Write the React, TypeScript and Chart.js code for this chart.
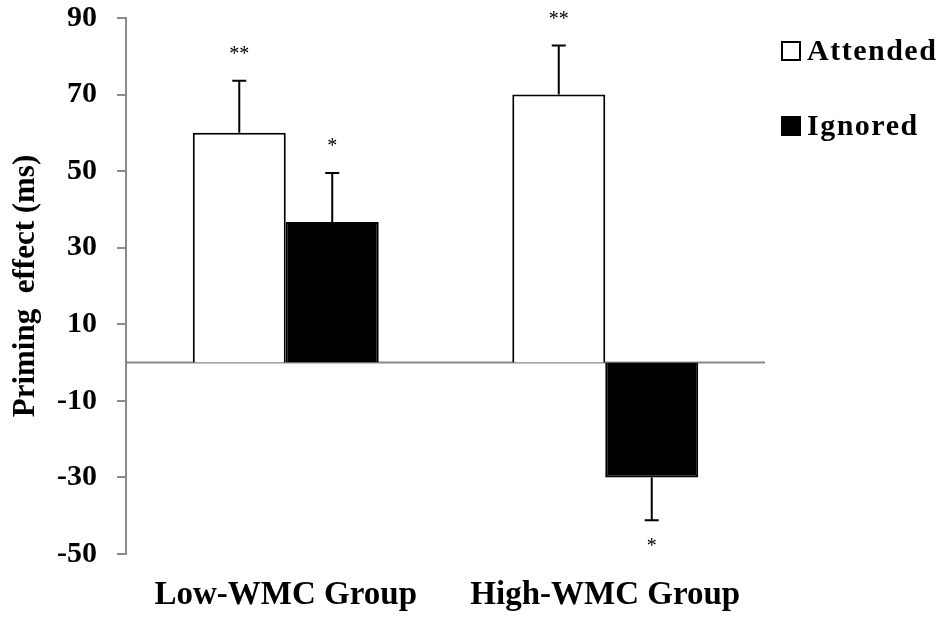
import { useEffect, useRef } from 'react'
import { Chart, registerables } from 'chart.js'
import type { Plugin } from 'chart.js'

Chart.register(...registerables)

const groups = ['Low-WMC Group', 'High-WMC Group']
const seriesNames = ['Attended', 'Ignored']
const attended = [60, 70]
const ignored = [36.7, -30]
const attendedErr = [13.6, 12.8]
const ignoredErr = [12.8, 11.2]
const attendedStars = ['**', '**']
const ignoredStars = ['*', '*']
const yMin = -50
const yMax = 90
const yStep = 20

const SERIF = "'Liberation Serif', 'Times New Roman', serif"
const AXIS_GREY = '#8a8a8a'

const errors = [attendedErr, ignoredErr]
const stars = [attendedStars, ignoredStars]

// zero line across the plot, like the original's x axis
const zeroLine: Plugin<'bar'> = {
  id: 'zeroLine',
  beforeDatasetsDraw(chart) {
    const { ctx, chartArea, scales } = chart
    const y0 = scales.y.getPixelForValue(0)
    ctx.save()
    ctx.strokeStyle = AXIS_GREY
    ctx.lineWidth = 2
    ctx.beginPath()
    ctx.moveTo(chartArea.left, y0)
    ctx.lineTo(chartArea.right, y0)
    ctx.stroke()
    ctx.restore()
  },
}

// one-sided error bars plus significance stars
const errorBars: Plugin<'bar'> = {
  id: 'errorBars',
  afterDatasetsDraw(chart) {
    const { ctx, scales } = chart
    ctx.save()
    chart.data.datasets.forEach((ds, i) => {
      const meta = chart.getDatasetMeta(i)
      meta.data.forEach((bar: any, j) => {
        const v = ds.data[j] as number
        const dir = v >= 0 ? 1 : -1
        const yEnd = scales.y.getPixelForValue(v + dir * errors[i][j])
        ctx.strokeStyle = '#000'
        ctx.lineWidth = 2
        ctx.beginPath()
        ctx.moveTo(bar.x, bar.y)
        ctx.lineTo(bar.x, yEnd)
        ctx.moveTo(bar.x - 7, yEnd)
        ctx.lineTo(bar.x + 7, yEnd)
        ctx.stroke()
        ctx.fillStyle = '#000'
        ctx.font = `20px ${SERIF}`
        ctx.textAlign = 'center'
        ctx.textBaseline = 'middle'
        ctx.fillText(stars[i][j], bar.x, yEnd - dir * 26)
      })
    })
    ctx.restore()
  },
}

const sideLegend: Plugin<'bar'> = {
  id: 'sideLegend',
  afterDraw(chart) {
    const { ctx, chartArea } = chart
    ctx.save()
    ctx.font = `bold 30px ${SERIF}`
    ;(ctx as any).letterSpacing = '1.5px'
    ctx.textAlign = 'left'
    ctx.textBaseline = 'middle'
    chart.data.datasets.forEach((ds, i) => {
      const x = chartArea.right + 17
      const y = chartArea.top + 33 + i * 75
      ctx.fillStyle = ds.backgroundColor as string
      ctx.fillRect(x, y - 9, 18, 18)
      ctx.strokeStyle = '#000'
      ctx.lineWidth = 2
      ctx.strokeRect(x, y - 9, 18, 18)
      ctx.fillStyle = '#000'
      ctx.fillText(ds.label as string, x + 25, y + 1)
    })
    ctx.restore()
  },
}

export default function App() {
  const chartRef = useRef<HTMLCanvasElement>(null)
  const chartInstance = useRef<Chart | null>(null)

  useEffect(() => {
    document.body.style.margin = '0'
    if (!chartRef.current) return
    if (chartInstance.current) chartInstance.current.destroy()

    chartInstance.current = new Chart(chartRef.current, {
      type: 'bar',
      data: {
        labels: groups,
        datasets: [
          {
            label: seriesNames[0],
            data: attended,
            backgroundColor: '#ffffff',
            borderColor: '#000000',
            borderWidth: 2,
            categoryPercentage: 0.582,
            barPercentage: 1,
          },
          {
            label: seriesNames[1],
            data: ignored,
            backgroundColor: '#000000',
            borderColor: '#000000',
            borderWidth: 2,
            categoryPercentage: 0.582,
            barPercentage: 1,
          },
        ],
      },
      options: {
        responsive: true,
        maintainAspectRatio: false,
        animation: false,
        layout: { padding: { top: 0, right: 185, bottom: 0, left: 0 } },
        plugins: {
          legend: { display: false },
          tooltip: { enabled: false },
        },
        scales: {
          x: {
            grid: { display: false, drawTicks: false },
            border: { display: false },
            ticks: {
              color: '#000',
              padding: 22,
              font: { family: SERIF, size: 33, weight: 'bold' },
            },
            afterFit: (scale) => {
              scale.height = 70
            },
          },
          y: {
            min: yMin,
            max: yMax,
            ticks: {
              stepSize: yStep,
              color: '#000',
              padding: 20,
              font: { family: SERIF, size: 30, weight: 'bold', lineHeight: 1.2 },
            },
            grid: {
              drawOnChartArea: false,
              tickLength: 9,
              tickColor: AXIS_GREY,
              lineWidth: 2,
            },
            border: { color: AXIS_GREY, width: 2 },
            title: {
              display: true,
              text: 'Priming  effect (ms)',
              color: '#000',
              padding: { top: 7, bottom: 0 },
              font: { family: SERIF, size: 31, weight: 'bold' },
            },
            afterFit: (scale) => {
              scale.width = 126
              scale.paddingTop = 18
            },
          },
        },
      },
      plugins: [zeroLine, errorBars, sideLegend],
    })

    return () => {
      if (chartInstance.current) {
        chartInstance.current.destroy()
        chartInstance.current = null
      }
    }
  }, [])

  return (
    <div style={{ position: 'relative', width: 950, height: 624 }}>
      <canvas ref={chartRef}></canvas>
    </div>
  )
}
